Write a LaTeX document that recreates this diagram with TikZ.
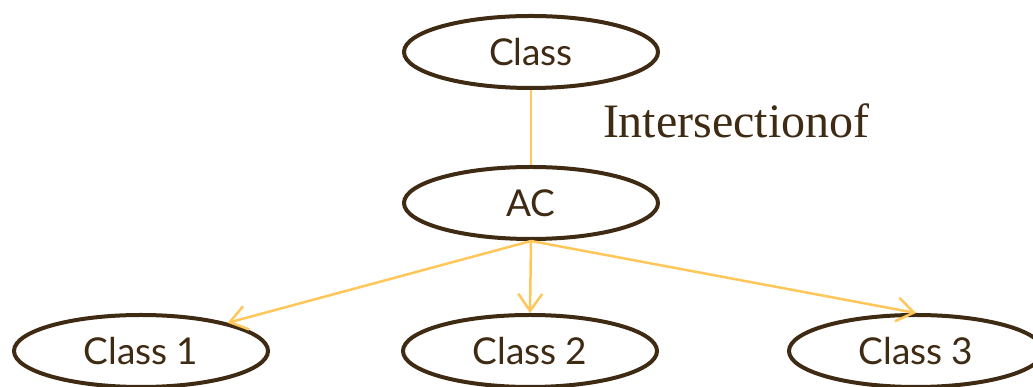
\documentclass[tikz,border=0pt]{standalone}
\usepackage{fontspec}
\setmainfont{Liberation Serif}
\newfontfamily\labelfont{Lato}
\usetikzlibrary{arrows.meta,shapes.geometric}
\definecolor{outline}{HTML}{3F2B13}
\definecolor{link}{HTML}{FFC65A}

\begin{document}
\begin{tikzpicture}[x=1pt,y=1pt,
	every node/.style={ellipse,line width=4pt,draw=outline,text=outline,minimum width=254pt,minimum height=72pt,font=\labelfont\fontsize{37}{40}\selectfont},
	every edge/.style={draw=link,line width=2.5pt},
	arr/.style={-{Straight Barb[length=17pt,width=24pt,line width=2.5pt]}}]
			\useasboundingbox (0,0) rectangle (1033,387);
			\node (cls) at (531,335) {Class};
			\node (ac) at (531,184) {AC};
			\node (c1) at (141,36) {Class 1};
			\node (c2) at (530,36) {Class 2};
			\node (c3) at (916,36) {Class 3};
			\node[draw=none,ellipse=false,rectangle,inner sep=0pt,minimum size=0pt,anchor=base west,text=outline,font=\fontsize{48}{52}\selectfont] (lbl) at (601,249) {Intersectionof};
			
			\path (cls) edge (ac);
			\path (ac.south) edge[arr] (c1.18);
			\path (ac.south) edge[arr] (c2.north);
			\path (ac.south) edge[arr] (c3.north);
		\end{tikzpicture}
\end{document}
